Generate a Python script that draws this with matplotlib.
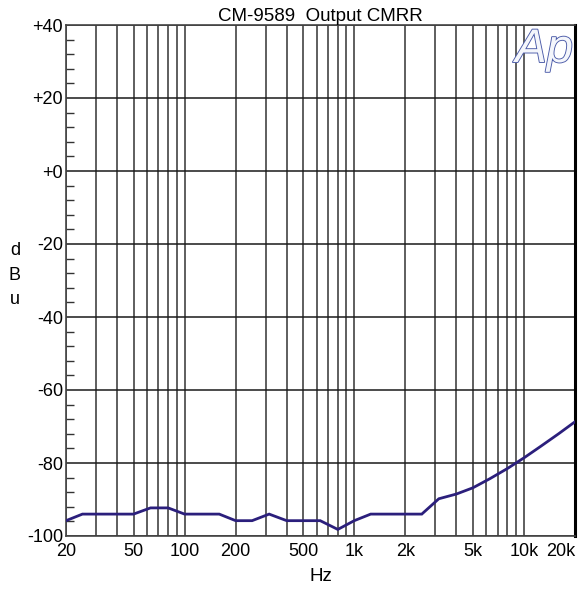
import matplotlib
matplotlib.use("Agg")
import matplotlib.pyplot as plt
import matplotlib.patheffects as pe
import numpy as np

freq = [20, 25, 50, 63, 80, 100, 160, 200, 250, 315, 400, 630, 800, 1000, 1250,
        1600, 2500, 3150, 4000, 5000, 6300, 8000, 10000, 12500, 16000, 20000]
dbu = [-95.8, -94, -94, -92.3, -92.3, -94, -94, -95.8, -95.8, -94, -95.8, -95.8, -98.2,
       -95.8, -94, -94, -94, -89.8, -88.5, -86.8, -84.3, -81.5, -78.6, -75.5, -72, -68.7]

xticks = [20, 50, 100, 200, 500, 1000, 2000, 5000, 10000, 20000]
xticklabels = ["20", "50", "100", "200", "500", "1k", "2k", "5k", "10k", "20k"]
yticks = [-100, -80, -60, -40, -20, 0, 20, 40]
yticklabels = ["-100", "-80", "-60", "-40", "-20", "+0", "+20", "+40"]

plt.rcParams['font.family'] = ['Liberation Sans', 'DejaVu Sans']

fig = plt.figure(figsize=(5.82, 5.94), dpi=100)
ax = fig.add_axes([66/582, 1-536/594, (575-66)/582, (536-25)/594])

vgrid = []
for dec in [10, 100, 1000, 10000]:
    for m in range(1, 10):
        f = dec * m
        if 20 <= f <= 20000:
            vgrid.append(f)
for f in vgrid:
    ax.axvline(f, color='#333333', lw=1.1, zorder=1)
for y in yticks:
    ax.axhline(y, color='#1a1a1a', lw=1.1, zorder=1)

ax.plot(freq, dbu, color='#2b1f7c', lw=2.0, zorder=3, solid_joinstyle='miter')

ax.set_xscale('log')
ax.set_xlim(20, 20000)
ax.set_ylim(-100, 40)
ax.set_xticks(xticks)
ax.set_xticklabels(xticklabels)
ax.xaxis.set_minor_locator(matplotlib.ticker.NullLocator())
ax.set_yticks(yticks)
ax.set_yticklabels(yticklabels)
minor_y = [v for v in range(-100, 41, 4) if v % 20 != 0]
ax.set_yticks(minor_y, minor=True)
ax.tick_params(axis='y', which='minor', direction='in', length=6, width=1, color='#333333')
ax.tick_params(axis='both', which='major', length=0, labelsize=13, pad=2)
ax.tick_params(axis='x', which='major', pad=5)
for lab in ax.get_xticklabels():
    if lab.get_text() == "20k":
        lab.set_horizontalalignment('right')

for s in ['left', 'top', 'bottom']:
    ax.spines[s].set_color('#444444')
    ax.spines[s].set_linewidth(1.2)
ax.spines['right'].set_color('black')
ax.spines['right'].set_linewidth(2.2)

ax.set_title("CM-9589  Output CMRR", fontsize=13.5, pad=2)
ax.set_xlabel("Hz", fontsize=13.5, labelpad=6)
fig.text(15/582, 1-275/594, "d\nB\nu", fontsize=13, ha='center', va='center', linespacing=1.55)

ax.text(0.996, 0.994, "Ap", transform=ax.transAxes, ha='right', va='top',
        fontsize=34, style='italic', color='#f4f6fb', zorder=5,
        path_effects=[pe.Stroke(linewidth=1.3, foreground='#4a5aa8'), pe.Normal()])

fig.savefig("out.png", dpi=100, facecolor='white')
